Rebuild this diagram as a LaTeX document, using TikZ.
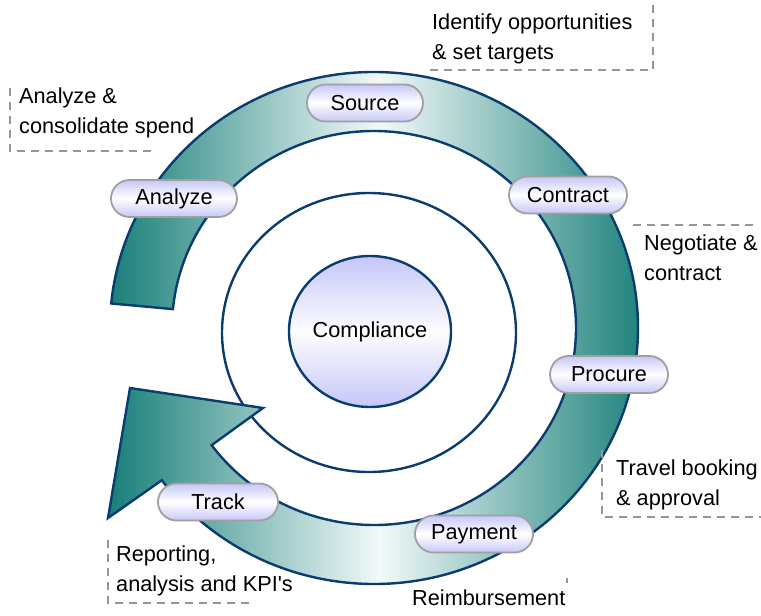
\documentclass[tikz,border=0pt]{standalone}
\usepackage{fontspec}
\setmainfont{Liberation Sans}
\usetikzlibrary{calc,shapes.geometric,shapes.misc}

\definecolor{navy}{RGB}{10,60,110}
\definecolor{tealdark}{RGB}{24,126,120}
\definecolor{teallight}{RGB}{242,249,249}
\definecolor{lav}{RGB}{198,198,248}
\definecolor{pillgray}{RGB}{160,160,160}
\definecolor{notegray}{RGB}{150,150,150}

\tikzset{
  txt/.style={font=\fontsize{21.7}{30}\selectfont},
  pill/.style={rounded rectangle, draw=pillgray, line width=1.8pt,
    top color=lav, bottom color=lav, middle color=white,
    minimum height=37pt, inner sep=0pt, txt},
  ringline/.style={draw=navy, line width=2.4pt},
  bandfill/.style={draw=navy, line width=2.4pt, line join=miter,
    left color=tealdark, right color=tealdark, middle color=teallight},
  % notes are placed by the baseline of their last line
  note/.style={anchor=base west, align=left, inner sep=0pt, txt},
  noteframe/.style={draw=notegray, line width=1.4pt, dash pattern=on 8pt off 6pt}
}

\begin{document}
\begin{tikzpicture}[x=1pt,y=1pt]
  \useasboundingbox (0,0) rectangle (761,-616);

  % centre of the band
  \coordinate (C) at (374,-328);

  % inner ring and the compliance hub
  \node[ellipse, ringline, fill=white, minimum width=294pt, minimum height=279pt, inner sep=0pt]
    (ring) at (369,-332.5) {};
  \node[ellipse, draw=navy, line width=2.4pt, top color=lav, bottom color=lav, middle color=white!96!lav,
    minimum width=162pt, minimum height=151pt, inner sep=0pt, txt]
    (hub) at (370,-331.5) {Compliance};

  % the cycle band with its arrowhead
  \coordinate (tipA) at (108,-518);
  \coordinate (tipB) at (130,-388);
  \coordinate (tipC) at (263,-408);
  \path[bandfill]
    ($(C)+(174.5:264 and 256)$)
      arc[start angle=174.5, end angle=-143.5, x radius=264, y radius=256]
    -- (tipA) -- (tipB) -- (tipC)
    -- ($(C)+(-143.5:202 and 197)$)
      arc[start angle=-143.5, end angle=174.5, x radius=202, y radius=197]
    -- cycle;

  % process steps on the band
  \node[pill, minimum width=116pt] (source)   at (365,-103)   {Source};
  \node[pill, minimum width=126pt] (analyze)  at (174,-198.5) {Analyze};
  \node[pill, minimum width=118pt] (contract) at (568,-195)   {Contract};
  \node[pill, minimum width=118pt] (procure)  at (609,-374.5) {Procure};
  \node[pill, minimum width=118pt] (payment)  at (474,-534)   {Payment};
  \node[pill, minimum width=120pt] (track)    at (218,-502)   {Track};

  % annotations
  \node[note] (nAnalyze)  at (19,-133)  {Analyze \&\\consolidate spend};
  \draw[noteframe] (10,-88) -- (10,-151) -- (152,-151);

  \node[note] (nSource)   at (432,-59)  {Identify opportunities\\\& set targets};
  \draw[noteframe] (653,-5) -- (653,-70) -- (428,-70);

  \node[note] (nContract) at (644,-280) {Negotiate \&\\contract};
  \draw[noteframe] (633,-225) -- (757,-225);

  \node[note] (nProcure)  at (616,-505) {Travel booking\\\& approval};
  \draw[noteframe] (602,-450) -- (602,-517) -- (761,-517);

  \node[note] (nTrack)    at (116,-591) {Reporting,\\analysis and KPI\textquotesingle s};
  \draw[noteframe] (108,-540) -- (108,-603) -- (250,-603);

  \node[note] (nPayment)  at (412,-605) {Reimbursement};
  \draw[draw=notegray, line width=1.4pt] (567,-578) -- (567,-583);
\end{tikzpicture}
\end{document}
